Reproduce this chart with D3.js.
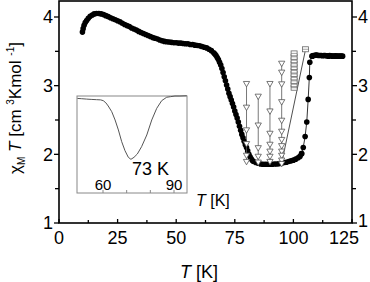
<!DOCTYPE html>
<html><head><meta charset="utf-8">
<script src="https://cdn.jsdelivr.net/npm/d3@7"></script>
<style>
html,body{margin:0;padding:0;background:#fff;}
text{font-family:"Liberation Sans",Arial,sans-serif;}
</style></head>
<body>
<svg id="chart" width="370" height="282"></svg>
<script>
// ---- data ----
const tempK = [10.0,10.3,10.7,11.2,11.8,12.5,13.3,14.2,15,16,17,18,19,20,21,22,23,24,25,26,27,28,29,30,31,32,33,34,35,36,37,38,39,40,41,42,43,44,45,46,47,48,49,50,51,52,53,54,55,56,57,58,59,60,61,62,63,64,65,66,66.5,67,67.5,68,68.5,69,69.5,70,70.5,71,71.5,72,72.5,73,73.5,74,74.5,75,75.5,76,76.5,77,77.5,78,78.5,79,79.5,80,80.5,81,81.5,82,82.5,83,84,85,86,87,88,89,90,91,92,93,94,95,96,97,98,99,100,101,102,102.8,103.5];
const chiT  = [3.78,3.83,3.88,3.92,3.95,3.98,4.01,4.03,4.045,4.05,4.05,4.045,4.035,4.02,4.005,3.99,3.975,3.96,3.945,3.93,3.91,3.89,3.875,3.86,3.84,3.825,3.81,3.79,3.775,3.76,3.745,3.73,3.715,3.70,3.69,3.68,3.665,3.655,3.645,3.64,3.635,3.63,3.625,3.625,3.62,3.62,3.615,3.61,3.61,3.60,3.60,3.59,3.585,3.58,3.57,3.56,3.55,3.53,3.51,3.48,3.46,3.44,3.41,3.38,3.34,3.30,3.25,3.19,3.13,3.07,3.01,2.95,2.89,2.84,2.79,2.74,2.69,2.63,2.58,2.53,2.47,2.41,2.35,2.29,2.24,2.19,2.14,2.10,2.05,2.00,1.965,1.935,1.91,1.895,1.88,1.87,1.86,1.855,1.855,1.855,1.855,1.855,1.86,1.86,1.865,1.87,1.88,1.885,1.895,1.905,1.915,1.93,1.95,1.97,2.01];
// sparse jump points (connected by a thin line)
const jumpT   = [103.5,104.2,105.0,105.7,106.3,106.8,107.0,108.0];
const jumpChi = [2.01,2.10,2.26,2.47,2.80,3.12,3.34,3.43];
// plateau
const plateauT   = [108,108.5,109,109.5,110,110.5,111,111.5,112,112.5,113,113.5,114,114.5,115,115.5,116,116.5,117,117.5,118,118.5,119,119.5,120,120.5,121];
const plateauChi = [3.43,3.44,3.44,3.445,3.445,3.44,3.44,3.44,3.44,3.435,3.44,3.44,3.435,3.435,3.43,3.44,3.435,3.43,3.43,3.43,3.435,3.43,3.43,3.43,3.43,3.43,3.43];
// open-triangle columns
const triTemps = [80, 85, 90, 95];
const triColA = [3.035, 2.69, 2.36, 2.16, 1.99, 1.90];
const triColB = [2.85, 2.43, 2.10, 1.975, 1.89];
const triColC = [3.035, 2.635, 2.31, 2.15, 2.05, 1.975, 1.90];
const triColD = [3.33, 3.20, 3.03, 2.77, 2.50, 2.34, 2.22, 2.13, 2.05, 1.99, 1.92, 1.87];
// square stack and top square
const sqTemp = 100.3;
const sqValues = [3.47, 3.42, 3.37, 3.32, 3.27, 3.22, 3.17, 3.12, 3.07, 3.02, 2.97];
const sqTopTemp = 105.2;
const sqTopValue = 3.53;
// inset curve
const insetT = [49.2,51,53.1,55,57.3,59,60.1,61.2,62.2,63.7,65.1,66.5,67.9,69.3,70.7,71.8,73.1,74.5,76.3,78.5,80.6,82.7,84.8,86.9,88.5,90.4,92.5,95.4];
const insetSignal = [0.975,0.972,0.968,0.965,0.962,0.96,0.952,0.93,0.897,0.838,0.753,0.65,0.529,0.436,0.368,0.347,0.368,0.402,0.477,0.598,0.753,0.873,0.952,0.987,0.993,1.0,1.0,1.003];
// ticks
const xTicks = [0, 25, 50, 75, 100, 125];
const xMinor = [12.5, 37.5, 62.5, 87.5, 112.5];
const yTicks = [1, 2, 3, 4];
const yMinor = [1.5, 2.5, 3.5];
const insetTickLabels = [60, 90];
const insetTicks = [60, 70, 80, 90];

// ---- drawing ----
const svg = d3.select("#chart");
const L = 59, R = 352, T = 1, B = 223;
const x = d3.scaleLinear().domain([0, 125]).range([L, R]);
const y = d3.scaleLinear().domain([1, 4]).range([B, 17]);

// inset
const ix = d3.scaleLinear().domain([60, 90]).range([103, 174]);
const iy = d3.scaleLinear().domain([0, 1]).range([193, 96]);
const ig = svg.append("g");
ig.append("rect").attr("x", 77).attr("y", 96).attr("width", 110).attr("height", 97)
  .attr("fill", "none").attr("stroke", "#888").attr("stroke-width", 1);
ig.selectAll("line.it").data(insetTicks).join("line")
  .attr("x1", d => ix(d)).attr("x2", d => ix(d)).attr("y1", 193).attr("y2", 190)
  .attr("stroke", "#888").attr("stroke-width", 1);
ig.append("path").datum(insetT.map((t, i) => [t, insetSignal[i]]))
  .attr("d", d3.line().x(d => ix(d[0])).y(d => iy(d[1])))
  .attr("fill", "none").attr("stroke", "#555").attr("stroke-width", 1);
ig.selectAll("text.il").data(insetTickLabels).join("text")
  .attr("x", d => ix(d)).attr("y", 190).attr("text-anchor", "middle")
  .attr("font-size", 15).text(d => d);
ig.append("text").attr("x", 132).attr("y", 175).attr("font-size", 18).text("73 K");
const il = ig.append("text").attr("x", 196).attr("y", 206).attr("font-size", 16);
il.append("tspan").attr("font-style", "italic").text("T");
il.append("tspan").text(" [K]");

// main series: thin line for jump
svg.append("path").datum(jumpT.map((t, i) => [t, jumpChi[i]]))
  .attr("d", d3.line().x(d => x(d[0])).y(d => y(d[1])))
  .attr("fill", "none").attr("stroke", "#000").attr("stroke-width", 0.8);

const dots = tempK.map((t, i) => [t, chiT[i]])
  .concat(jumpT.map((t, i) => [t, jumpChi[i]]))
  .concat(plateauT.map((t, i) => [t, plateauChi[i]]));
svg.append("g").selectAll("circle").data(dots).join("circle")
  .attr("cx", d => x(d[0])).attr("cy", d => y(d[1])).attr("r", 2.8).attr("fill", "#000");

// line from last triangle to top square
svg.append("line")
  .attr("x1", x(triTemps[3])).attr("y1", y(triColD[triColD.length - 1]))
  .attr("x2", x(sqTopTemp)).attr("y2", y(sqTopValue))
  .attr("stroke", "#222").attr("stroke-width", 0.8);

// triangle columns
const cols = [triColA, triColB, triColC, triColD];
const tri = d3.symbol(d3.symbolTriangle).size(17);
cols.forEach((vals, ci) => {
  const t = triTemps[ci];
  const g = svg.append("g");
  g.append("line").attr("x1", x(t)).attr("x2", x(t))
    .attr("y1", y(d3.max(vals))).attr("y2", y(d3.min(vals)))
    .attr("stroke", "#555").attr("stroke-width", 0.8);
  g.selectAll("path").data(vals).join("path")
    .attr("d", tri)
    .attr("transform", d => `translate(${x(t)},${y(d)}) rotate(180)`)
    .attr("fill", "#fff").attr("stroke", "#555").attr("stroke-width", 0.8);
});

// squares
function square(g, cx, cy) {
  g.append("rect").attr("x", cx - 3).attr("y", cy - 2.5).attr("width", 6).attr("height", 5)
    .attr("fill", "#fff").attr("stroke", "#666").attr("stroke-width", 0.8);
  g.append("line").attr("x1", cx - 3).attr("x2", cx + 3).attr("y1", cy).attr("y2", cy)
    .attr("stroke", "#666").attr("stroke-width", 0.6);
}
const sg = svg.append("g");
sqValues.slice().reverse().forEach(v => square(sg, x(sqTemp), y(v)));
square(sg, x(sqTopTemp), y(sqTopValue));

// axes frame
const ax = svg.append("g").attr("stroke", "#000").attr("stroke-width", 1.6).attr("fill", "none");
ax.append("rect").attr("x", L).attr("y", T).attr("width", R - L).attr("height", B - T);

// bottom ticks (inward)
svg.append("g").selectAll("line").data(xTicks.map(v => [v, 4]).concat(xMinor.map(v => [v, 3]))).join("line")
  .attr("x1", d => x(d[0])).attr("x2", d => x(d[0])).attr("y1", B).attr("y2", d => B - d[1])
  .attr("stroke", "#000").attr("stroke-width", 1.3);
svg.append("g").selectAll("text").data(xTicks).join("text")
  .attr("x", (d, i) => x(d) - (i === xTicks.length - 1 ? 8 : 0)).attr("y", 244).attr("text-anchor", "middle")
  .attr("font-size", 18).text(d => d);

// left & right ticks (outward)
const yt = yTicks.map(v => [v, 5]).concat(yMinor.map(v => [v, 4]));
svg.append("g").selectAll("line").data(yt).join("line")
  .attr("x1", L).attr("x2", d => L - d[1]).attr("y1", d => y(d[0])).attr("y2", d => y(d[0]))
  .attr("stroke", "#000").attr("stroke-width", 1.3);
svg.append("g").selectAll("line").data(yt).join("line")
  .attr("x1", R).attr("x2", d => R + d[1]).attr("y1", d => y(d[0])).attr("y2", d => y(d[0]))
  .attr("stroke", "#000").attr("stroke-width", 1.3);
svg.append("g").selectAll("text").data(yTicks).join("text")
  .attr("x", 53).attr("y", d => y(d)).attr("dy", "0.36em").attr("text-anchor", "end")
  .attr("font-size", 18).text(d => d);
svg.append("g").selectAll("text").data(yTicks).join("text")
  .attr("x", 358).attr("y", (d, i) => y(d) - (i === 0 ? 2 : 0)).attr("dy", "0.36em").attr("text-anchor", "start")
  .attr("font-size", 18).text(d => d);

// x label
const xl = svg.append("text").attr("x", 199).attr("y", 278).attr("text-anchor", "middle").attr("font-size", 18);
xl.append("tspan").attr("font-style", "italic").text("T");
xl.append("tspan").text(" [K]");

// y label
const yl = svg.append("text").attr("transform", "translate(21,108) rotate(-90)")
  .attr("text-anchor", "middle").attr("font-size", 17);
yl.append("tspan").text("\u03C7");
yl.append("tspan").attr("font-size", 10).attr("baseline-shift", "-4").text("M");
yl.append("tspan").attr("font-style", "italic").text(" T");
yl.append("tspan").text(" [cm ");
yl.append("tspan").attr("font-size", 10).attr("baseline-shift", "7").text("3");
yl.append("tspan").text("Kmol ");
yl.append("tspan").attr("font-size", 10).attr("baseline-shift", "7").text("-1");
yl.append("tspan").text("]");
</script>
</body></html>
